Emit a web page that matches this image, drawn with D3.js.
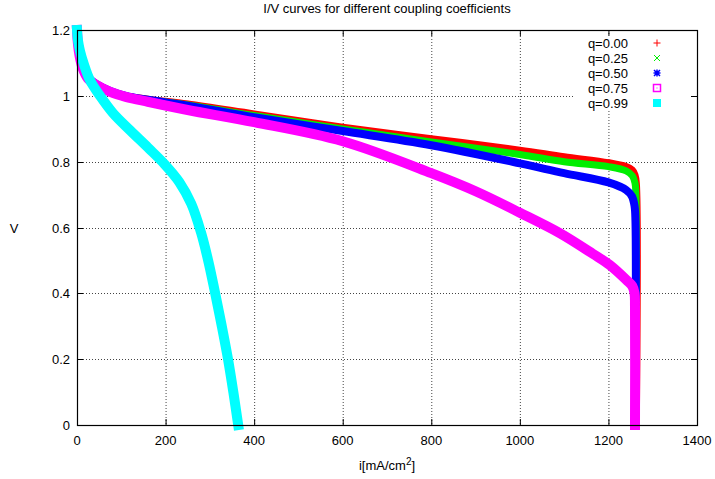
<!DOCTYPE html>
<html>
<head>
<meta charset="utf-8">
<script src="https://cdn.jsdelivr.net/npm/d3@7"></script>
<style>
  html, body { margin: 0; padding: 0; background: #fff; }
  svg { display: block; font-family: "Liberation Sans", Arial, Helvetica, sans-serif; }
</style>
</head>
<body>
<svg id="chart" width="715" height="479"></svg>
<script>
// Polarisation curves: current density i [mA/cm2] vs cell voltage V
const xTicks = [0, 200, 400, 600, 800, 1000, 1200, 1400];
const yTicks = [0, 0.2, 0.4, 0.6, 0.8, 1, 1.2];
const yTickLabels = ["0", "0.2", "0.4", "0.6", "0.8", "1", "1.2"];
const legendLabels = ["q=0.00", "q=0.25", "q=0.50", "q=0.75", "q=0.99"];
const seriesColors = ["#ff0000", "#00ee00", "#0000ff", "#ff00ff", "#00ffff"];

// q = 0.00
const curveQ000 = [
  [0, 1.2], [2, 1.16], [6, 1.12], [13, 1.085], [25, 1.055], [45, 1.035], [75, 1.015],
  [110, 1.0], [160, 0.99], [250, 0.975], [400, 0.945], [600, 0.905], [800, 0.87],
  [1000, 0.835], [1100, 0.815], [1200, 0.797], [1240, 0.785], [1254, 0.775],
  [1260, 0.76], [1263, 0.735], [1263, 0.0]
];
// q = 0.25
const curveQ025 = [
  [0, 1.2], [2, 1.16], [6, 1.12], [13, 1.085], [25, 1.055], [45, 1.035], [75, 1.015],
  [110, 1.0], [160, 0.988], [250, 0.972], [400, 0.94], [600, 0.899], [800, 0.86],
  [1000, 0.822], [1100, 0.80], [1200, 0.785], [1240, 0.772], [1254, 0.757],
  [1260, 0.735], [1262, 0.70], [1262, 0.0]
];
// q = 0.50
const curveQ050 = [
  [0, 1.2], [2, 1.16], [6, 1.12], [13, 1.085], [25, 1.055], [45, 1.035], [75, 1.015],
  [110, 1.0], [160, 0.988], [250, 0.97], [400, 0.935], [600, 0.893], [800, 0.85],
  [1000, 0.795], [1100, 0.765], [1200, 0.737], [1240, 0.714], [1253, 0.695],
  [1259, 0.665], [1261, 0.62], [1261, 0.0]
];
// q = 0.75
const curveQ075 = [
  [0, 1.2], [2, 1.16], [6, 1.12], [13, 1.083], [25, 1.052], [45, 1.032], [75, 1.012],
  [110, 0.997], [160, 0.982], [250, 0.957], [400, 0.92], [600, 0.862], [800, 0.765],
  [900, 0.71], [1000, 0.645], [1090, 0.583], [1165, 0.52], [1203, 0.486],
  [1241, 0.44], [1254, 0.422], [1259, 0.40], [1260, 0.36], [1260, 0.0]
];
// q = 0.99
const curveQ099 = [
  [0, 1.2], [2, 1.17], [7, 1.135], [16, 1.094], [29, 1.048], [52, 1.0], [81, 0.948],
  [120, 0.895], [160, 0.843], [198, 0.792], [231, 0.738], [258, 0.672], [280, 0.585],
  [297, 0.495], [312, 0.40], [327, 0.30], [341, 0.20], [353, 0.10], [364, 0.0]
];

const seriesData = [curveQ000, curveQ025, curveQ050, curveQ075, curveQ099];
const bandWidths = [7, 7, 8, 10, 10];

const svg = d3.select("#chart");
const plotLeft = 77, plotRight = 697, plotTop = 30, plotBottom = 425;

const x = d3.scaleLinear().domain([0, 1400]).range([plotLeft, plotRight]);
const y = d3.scaleLinear().domain([0, 1.2]).range([plotBottom, plotTop]);

// Grid (dotted)
const grid = svg.append("g");
grid.selectAll("line.gx").data(xTicks.slice(1, -1)).join("line")
  .attr("x1", d => x(d) + 0.5).attr("x2", d => x(d) + 0.5)
  .attr("y1", plotTop).attr("y2", plotBottom)
  .attr("stroke", "#444").attr("stroke-width", 1).attr("stroke-dasharray", "1,2");
grid.selectAll("line.gy").data(yTicks.slice(1, -1)).join("line")
  .attr("y1", d => Math.round(y(d)) + 0.5).attr("y2", d => Math.round(y(d)) + 0.5)
  .attr("x1", plotLeft).attr("x2", plotRight)
  .attr("stroke", "#444").attr("stroke-width", 1).attr("stroke-dasharray", "1,2");

// Tick marks on all four sides, pointing inward
const tickLen = 6;
const ticks = svg.append("g").attr("stroke", "#000").attr("stroke-width", 1);
xTicks.forEach(t => {
  const px = x(t) + 0.5;
  ticks.append("line").attr("x1", px).attr("x2", px).attr("y1", plotBottom).attr("y2", plotBottom - tickLen);
  ticks.append("line").attr("x1", px).attr("x2", px).attr("y1", plotTop).attr("y2", plotTop + tickLen);
});
yTicks.forEach(t => {
  const py = Math.round(y(t)) + 0.5;
  ticks.append("line").attr("y1", py).attr("y2", py).attr("x1", plotLeft).attr("x2", plotLeft + tickLen);
  ticks.append("line").attr("y1", py).attr("y2", py).attr("x1", plotRight).attr("x2", plotRight - tickLen);
});

// Key background (opaque, no border)
svg.append("rect")
  .attr("x", 573).attr("y", 36).attr("width", plotRight - 573 - 6).attr("height", 74)
  .attr("fill", "#fff");

// Curves
const line = d3.line()
  .x(d => x(d[0]))
  .y(d => y(d[1]))
  .curve(d3.curveCatmullRom.alpha(0.5));

const curves = svg.append("g");
seriesData.forEach((data, k) => {
  curves.append("path")
    .datum(data)
    .attr("d", line)
    .attr("fill", "none")
    .attr("stroke", seriesColors[k])
    .attr("stroke-width", bandWidths[k])
    .attr("stroke-linejoin", "round")
    .attr("stroke-linecap", "square");
});

// Border
svg.append("rect")
  .attr("x", plotLeft + 0.5).attr("y", plotTop + 0.5)
  .attr("width", plotRight - plotLeft).attr("height", plotBottom - plotTop)
  .attr("fill", "none").attr("stroke", "#000").attr("stroke-width", 1.2);

// Tick labels
const labels = svg.append("g").attr("font-size", 13).attr("fill", "#000");
xTicks.forEach(t => {
  labels.append("text").attr("x", x(t)).attr("y", plotBottom + 20)
    .attr("text-anchor", "middle").text(t);
});
yTicks.forEach((t, k) => {
  labels.append("text").attr("x", plotLeft - 7).attr("y", y(t) + 5)
    .attr("text-anchor", "end").text(yTickLabels[k]);
});

// Axis titles and chart title
svg.append("text").attr("x", 387).attr("y", 13).attr("text-anchor", "middle")
  .attr("font-size", 13).text("I/V curves for different coupling coefficients");
svg.append("text").attr("x", 14).attr("y", 233).attr("text-anchor", "middle")
  .attr("font-size", 13).text("V");
const xl = svg.append("text").attr("x", 387).attr("y", 470).attr("text-anchor", "middle")
  .attr("font-size", 13);
xl.append("tspan").text("i[mA/cm");
xl.append("tspan").attr("dy", -5).attr("font-size", 10).text("2");
xl.append("tspan").attr("dy", 5).text("]");

// Key
const key = svg.append("g");
legendLabels.forEach((lab, k) => {
  const ky = 43 + k * 15;
  key.append("text").attr("x", 628).attr("y", ky + 5).attr("text-anchor", "end")
    .attr("font-size", 13).text(lab);
  const g = key.append("g").attr("transform", `translate(657,${ky})`)
    .attr("stroke", seriesColors[k]).attr("fill", "none").attr("stroke-width", 1);
  if (k === 0) {
    g.append("path").attr("d", "M-3.5,0H3.5M0,-3.5V3.5");
  } else if (k === 1) {
    g.append("path").attr("d", "M-3,-3L3,3M-3,3L3,-3");
  } else if (k === 2) {
    g.append("path").attr("d", "M-3.5,0H3.5M0,-3.5V3.5M-3,-3L3,3M-3,3L3,-3").attr("stroke-width", 1.5);
  } else if (k === 3) {
    g.append("rect").attr("x", -3.5).attr("y", -3.5).attr("width", 7).attr("height", 7).attr("stroke-width", 1.5);
    g.append("rect").attr("x", -0.5).attr("y", -0.5).attr("width", 1).attr("height", 1).attr("fill", seriesColors[k]).attr("stroke", "none");
  } else {
    g.append("rect").attr("x", -4).attr("y", -4).attr("width", 8).attr("height", 8)
      .attr("fill", seriesColors[k]).attr("stroke", "none");
  }
});
</script>
</body>
</html>
